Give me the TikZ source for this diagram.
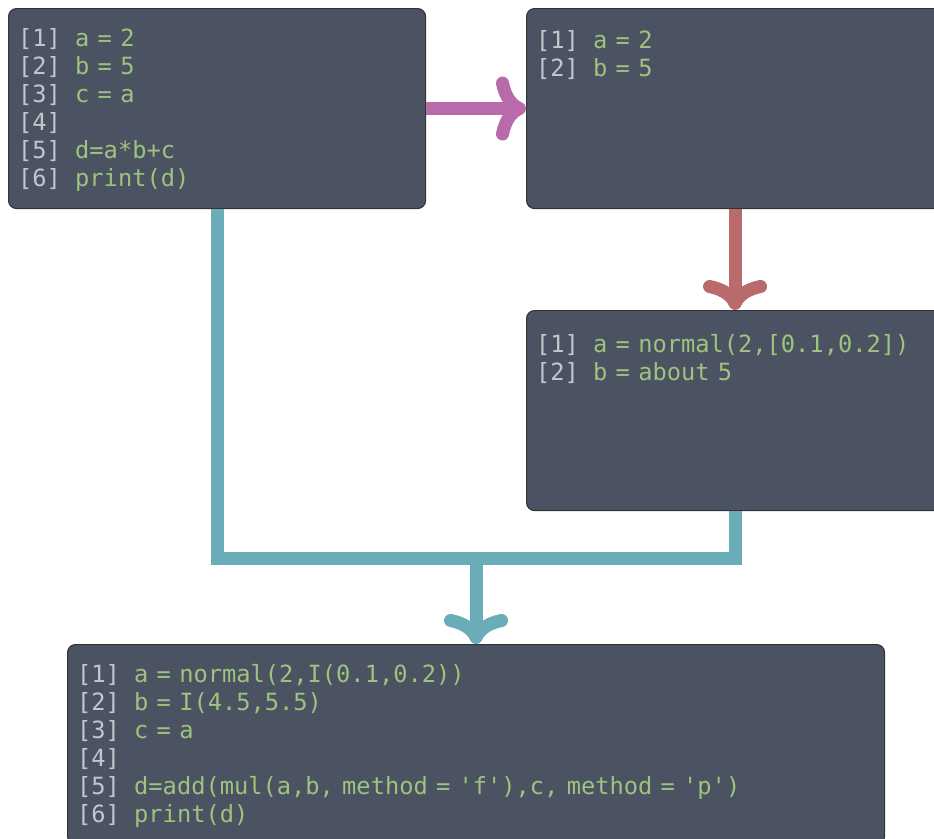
\documentclass[tikz,border=0pt]{standalone}
\usepackage{fontspec}
\newfontfamily\codefont[WordSpace={0.58,0,0}]{DejaVu Sans Mono}
\usetikzlibrary{arrows.meta}

\definecolor{boxfill}{HTML}{4B5262}
\definecolor{codegreen}{HTML}{9CC47F}
\definecolor{idxgray}{HTML}{C4C6CA}
\definecolor{flowpurple}{HTML}{B86AAB}
\definecolor{flowred}{HTML}{B96B6C}
\definecolor{flowteal}{HTML}{6AACB8}

% one line of a code cell: name, cell, baseline offset, index, code
\newcommand\codeline[5]{%
  \node[codetext] (#1) at ([shift={(10,#3)}]#2.north west)
    {\makebox[57pt][l]{\color{idxgray}#4}#5};}
\newcommand\q{\symbol{39}}

\tikzset{
  codebox/.style={draw=black!80, line width=1.1pt, fill=boxfill,
    rounded corners=8pt, anchor=north west, inner sep=0pt,
    minimum height=200pt},
  codetext/.style={anchor=base west, inner sep=0pt, text=codegreen,
    font=\fontsize{23.7}{28}\selectfont\codefont},
  flow/.style={line width=13pt, line cap=butt, line join=miter,
    -{Computer Modern Rightarrow[round,length=30pt,width=64pt]}},
  link/.style={line width=13pt, line cap=butt, line join=miter}
}

\begin{document}
\begin{tikzpicture}[x=1pt, y=-1pt]
  \path[use as bounding box, clip] (0,0) rectangle (934,838);
  \fill[white] (0,0) rectangle (934,838);

  % code cells
  \node[codebox, minimum width=417pt] (A) at (8,8) {};
  \node[codebox, minimum width=417pt] (B) at (526,8) {};
  \node[codebox, minimum width=417pt] (C) at (526,310) {};
  \node[codebox, minimum width=817pt] (D) at (67,644) {};

  % cell A
  \codeline{A1}{A}{38}{[1]}{a = 2}
  \codeline{A2}{A}{66}{[2]}{b = 5}
  \codeline{A3}{A}{94}{[3]}{c = a}
  \codeline{A4}{A}{122}{[4]}{}
  \codeline{A5}{A}{150}{[5]}{d=a*b+c}
  \codeline{A6}{A}{178}{[6]}{print(d)}

  % cell B
  \codeline{B1}{B}{40}{[1]}{a = 2}
  \codeline{B2}{B}{68}{[2]}{b = 5}

  % cell C
  \codeline{C1}{C}{42}{[1]}{a = normal(2,[0.1,0.2])}
  \codeline{C2}{C}{70}{[2]}{b = about 5}

  % cell D
  \codeline{D1}{D}{38}{[1]}{a = normal(2,I(0.1,0.2))}
  \codeline{D2}{D}{66}{[2]}{b = I(4.5,5.5)}
  \codeline{D3}{D}{94}{[3]}{c = a}
  \codeline{D4}{D}{122}{[4]}{}
  \codeline{D5}{D}{150}{[5]}{d=add(mul(a,b, method = \q f\q),c, method = \q p\q)}
  \codeline{D6}{D}{178}{[6]}{print(d)}

  % connectors
  \draw[flow, flowpurple] (A.east) -- (B.west);
  \draw[flow, flowred] (B.south) -- (C.north);
  \coordinate (J) at (D.north |- 0,558);
  \draw[link, flowteal] (A.south) |- (J) -| (C.south);
  \draw[flow, flowteal] (J) -- (D.north);
\end{tikzpicture}
\end{document}
